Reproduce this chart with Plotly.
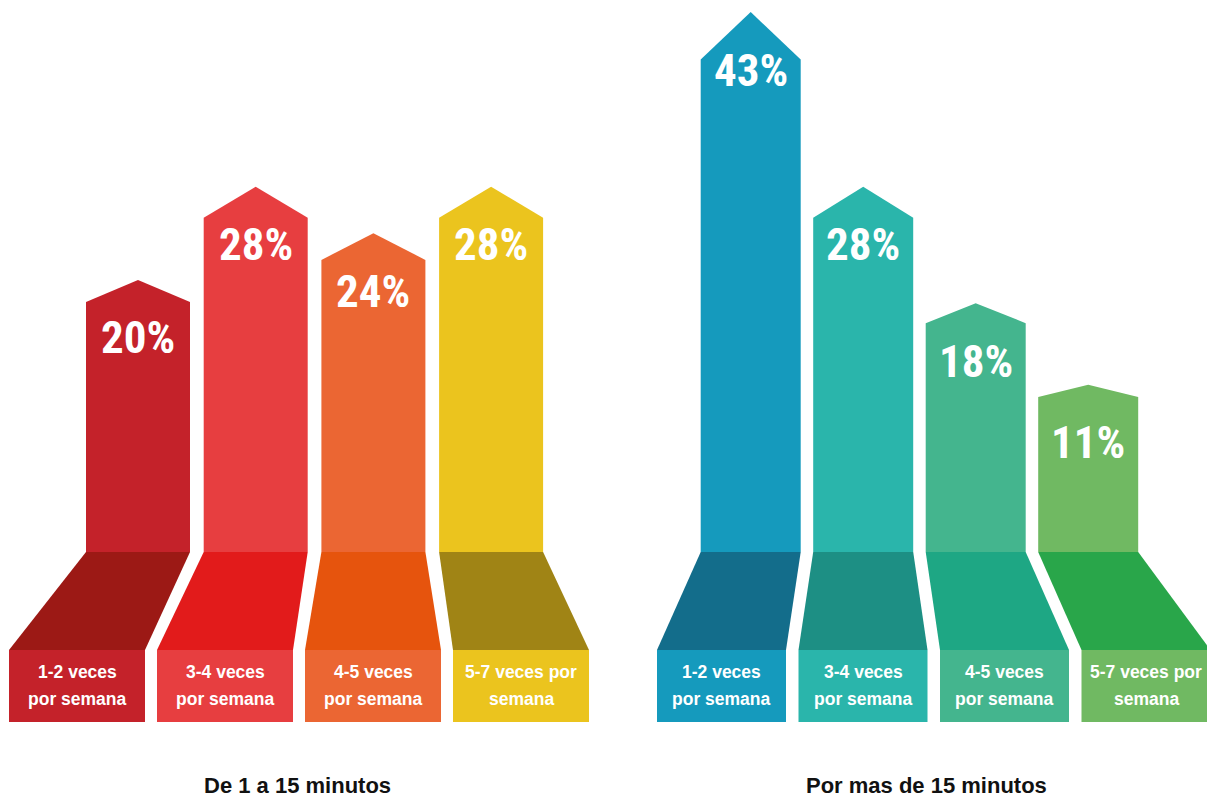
import plotly.graph_objects as go

# ---------------- data ----------------
frequency = ["1-2 veces por semana", "3-4 veces por semana",
             "4-5 veces por semana", "5-7 veces por semana"]
label_line1 = ["1-2 veces", "3-4 veces", "4-5 veces", "5-7 veces por"]
label_line2 = ["por semana", "por semana", "por semana", "semana"]
group_titles = ["De 1 a 15 minutos", "Por mas de 15 minutos"]
short_pct = [20, 28, 24, 28]     # De 1 a 15 minutos
long_pct = [43, 28, 18, 11]      # Por mas de 15 minutos

# ---------------- styling ----------------
top_colors = [["#C4222A", "#E73E40", "#EB6633", "#EBC41E"],
              ["#159ABD", "#2AB5AB", "#44B58E", "#70B962"]]
floor_colors = [["#9C1915", "#E21B1B", "#E6540D", "#A08415"],
                ["#136D8B", "#1D8F84", "#1EA784", "#29A64A"]]

# layout geometry (x in page px units, y in percent units of the value axis)
BAR_X0 = [86, 700.7]
BAR_STEP = [117.7, 112.5]
BAR_W = [104, 100]
BOX_X0 = [9, 657]
BOX_STEP = [148, 141.5]
BOX_W = [136, 129]
TITLE_X = [297.5, 926.5]

PX_PER_UNIT = 11.648
ZERO_PX = 512.9
H = 800
Y_RANGE = [-(H - ZERO_PX) / PX_PER_UNIT, ZERO_PX / PX_PER_UNIT]


def px_to_v(py):
    return (ZERO_PX - py) / PX_PER_UNIT


FLOOR_TOP = px_to_v(552)
FLOOR_BOT = px_to_v(650)
BOX_BOT = px_to_v(722)
LINE1_Y = px_to_v(672)
LINE2_Y = px_to_v(699)
TITLE_Y = px_to_v(785)
ROOF = 0.095

fig = go.Figure()
annotations = []

LABEL_FONT = dict(family="Liberation Sans, Arial, sans-serif", size=17.5,
                  color="white", weight="bold")
PCT_FONT = dict(family="Roboto Condensed, Liberation Sans Narrow, Arial Narrow, sans-serif",
                size=45, color="white", weight="bold")

for g, values in enumerate([short_pct, long_pct]):
    for i, v in enumerate(values):
        x0 = BAR_X0[g] + i * BAR_STEP[g]
        x1 = x0 + BAR_W[g]
        xc = (x0 + x1) / 2
        sh = v - ROOF * v
        # arrow-shaped bar rising from the floor
        fig.add_trace(go.Scatter(
            x=[x0, x0, xc, x1, x1, x0],
            y=[FLOOR_TOP, sh, v, sh, FLOOR_TOP, FLOOR_TOP],
            fill="toself", fillcolor=top_colors[g][i], mode="lines",
            line=dict(width=0, color=top_colors[g][i]),
            hoverinfo="skip", showlegend=False, name=frequency[i]))
        bx0 = BOX_X0[g] + i * BOX_STEP[g]
        bx1 = bx0 + BOX_W[g]
        # perspective floor
        fig.add_trace(go.Scatter(
            x=[x0, x1, bx1, bx0, x0],
            y=[FLOOR_TOP, FLOOR_TOP, FLOOR_BOT, FLOOR_BOT, FLOOR_TOP],
            fill="toself", fillcolor=floor_colors[g][i], mode="lines",
            line=dict(width=0, color=floor_colors[g][i]),
            hoverinfo="skip", showlegend=False))
        # label box
        fig.add_trace(go.Scatter(
            x=[bx0, bx1, bx1, bx0, bx0],
            y=[FLOOR_BOT, FLOOR_BOT, BOX_BOT, BOX_BOT, FLOOR_BOT],
            fill="toself", fillcolor=top_colors[g][i], mode="lines",
            line=dict(width=0, color=top_colors[g][i]),
            hoverinfo="skip", showlegend=False))
        bxc = (bx0 + bx1) / 2
        annotations.append(dict(x=bxc, y=LINE1_Y, text=label_line1[i],
                                showarrow=False, font=LABEL_FONT,
                                xanchor="center", yanchor="middle"))
        annotations.append(dict(x=bxc, y=LINE2_Y, text=label_line2[i],
                                showarrow=False, font=LABEL_FONT,
                                xanchor="center", yanchor="middle"))
        annotations.append(dict(x=xc, y=v, text=f"{v}%", showarrow=False,
                                font=PCT_FONT, xanchor="center",
                                yanchor="middle", yshift=-58))
    annotations.append(dict(x=TITLE_X[g], y=TITLE_Y, text=group_titles[g],
                            showarrow=False,
                            font=dict(family="Liberation Sans, Arial, sans-serif",
                                      size=22, color="#111111", weight="bold"),
                            xanchor="center", yanchor="middle"))

fig.update_layout(
    width=1207, height=H,
    margin=dict(l=0, r=0, t=0, b=0),
    paper_bgcolor="white", plot_bgcolor="white",
    xaxis=dict(range=[0, 1207], visible=False, fixedrange=True),
    yaxis=dict(range=Y_RANGE, visible=False, fixedrange=True),
    annotations=annotations,
    showlegend=False,
)

fig.write_html("out.html", post_script="document.body.style.margin='0';",
               config={"displayModeBar": False})
